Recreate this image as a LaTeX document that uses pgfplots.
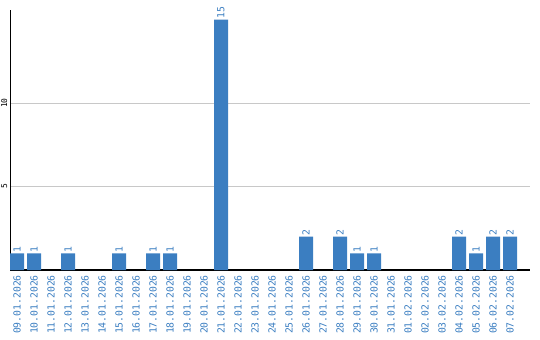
\documentclass[border=0pt]{standalone}
\usepackage{pgfplots}
\pgfplotsset{compat=1.18}
\usepackage{fontspec}
\setmainfont{DejaVu Sans}
\newfontfamily\monof{DejaVu Sans Mono}
\definecolor{barblue}{HTML}{3B7EC1}
\definecolor{gridgray}{HTML}{C8C8C8}
\begin{document}
\begin{tikzpicture}
\useasboundingbox (-10bp,-70bp) rectangle (530bp,270bp);
\begin{axis}[
  at={(0,0)}, anchor=south west,
  scale only axis, width=520bp, height=260bp,
  xmin=-0.412, xmax=30.176, ymin=0, ymax=15.57,
  clip=false,
  axis x line=bottom, axis y line=left,
  axis line style={-, black},
  x axis line style={line width=1.5bp},
  y axis line style={line width=1bp},
  ybar, bar width=14bp,
  xtick={0,...,29},
  xticklabels={09.01.2026,10.01.2026,11.01.2026,12.01.2026,13.01.2026,14.01.2026,15.01.2026,16.01.2026,17.01.2026,18.01.2026,19.01.2026,20.01.2026,21.01.2026,22.01.2026,23.01.2026,24.01.2026,25.01.2026,26.01.2026,27.01.2026,28.01.2026,29.01.2026,30.01.2026,31.01.2026,01.02.2026,02.02.2026,03.02.2026,04.02.2026,05.02.2026,06.02.2026,07.02.2026},
  major tick length=0,
  xticklabel style={rotate=90, anchor=east, font=\monof\fontsize{9.8}{10}\selectfont, text=barblue, inner sep=0pt},
  xticklabel shift=5bp,
  ytick={5,10},
  yticklabel style={rotate=90, anchor=south, font=\monof\fontsize{8}{9}\selectfont, text=black, inner sep=0pt},
  yticklabel shift=2.5bp,
  /pgf/number format/assume math mode=true,
  ymajorgrids,
  major grid style={gridgray, line width=1bp},
  nodes near coords,
  every node near coord/.append style={rotate=90, anchor=west, font=\monof\fontsize{9.8}{10}\selectfont, text=barblue, inner sep=1bp},
]
\addplot[draw=none, fill=barblue] coordinates {
(0,1) (1,1) (3,1) (6,1) (8,1) (9,1) (12,15) (17,2) (19,2) (20,1) (21,1) (26,2) (27,1) (28,2) (29,2)
};
\end{axis}
\end{tikzpicture}
\end{document}
